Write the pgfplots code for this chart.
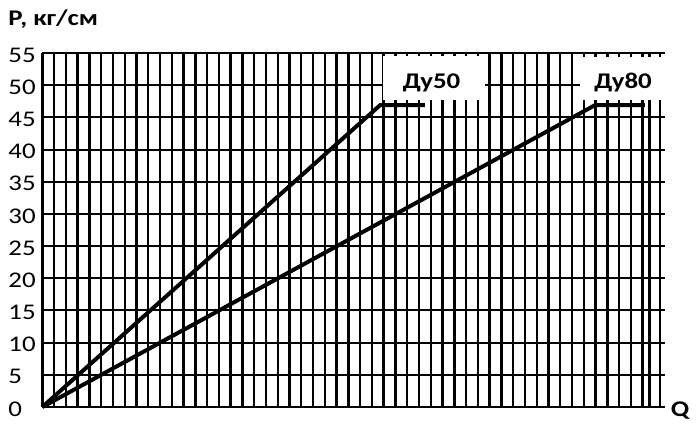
\documentclass[border=0pt]{standalone}
\usepackage{pgfplots}
\pgfplotsset{compat=1.18}
\usepackage{fontspec}
\setmainfont{Carlito}[FakeStretch=1.2]
\newcommand{\lblfont}{\fontsize{11.2}{13}\selectfont}
\begin{document}
\begin{tikzpicture}
\begin{axis}[
 name=ax,
 at={(0,0)}, anchor=south west,
 scale only axis, width=311.35pt, height=177pt,
 xmin=0, xmax=52.9, ymin=0, ymax=55,
 axis line style={draw=none},
 xtick={0,1,...,51,51.57,52.48},
 xticklabels={},
 ytick={0,5,...,55},
 major tick length=0pt,
 grid=major,
 x grid style={black, line width=1.2pt},
 y grid style={black, line width=1pt},
 yticklabel style={anchor=west, inner sep=0pt, xshift=-17.15pt, yshift=-1pt, font=\lblfont},
 /pgf/number format/assume math mode=true,
 clip=false,
]
\draw[black, line width=1.5pt] (axis cs:0,0) -- (axis cs:0,55);
\draw[black, line width=1.2pt] (axis cs:0,0) -- (axis cs:52.5,0);
\addplot[black, line width=2pt] coordinates {(0,0) (28.7,46.9) (32.5,46.9)};
\addplot[black, line width=2pt] coordinates {(0,0) (46.96,46.9) (51.2,46.9)};
\fill[white] (axis cs:28.94,47.69) rectangle (axis cs:37.61,54.53);
\fill[white] (axis cs:45.68,47.69) rectangle (axis cs:53,54.38);
\node[font=\bfseries\lblfont] at (axis cs:33.07,50.34) {Ду50};
\node[font=\bfseries\lblfont] at (axis cs:49.34,50.34) {Ду80};
\node[font=\bfseries\lblfont] at (axis cs:54.18,-0.62) {Q};
\node[anchor=base west, inner sep=0pt, font=\bfseries\lblfont] at (axis cs:-2.91,59.35) {Р, кг/см};
\end{axis}
\pgfresetboundingbox
\path[use as bounding box] ([xshift=-21.15pt,yshift=-10pt]ax.south west) rectangle ([xshift=328.85pt,yshift=203.5pt]ax.south west);
\end{tikzpicture}
\end{document}
